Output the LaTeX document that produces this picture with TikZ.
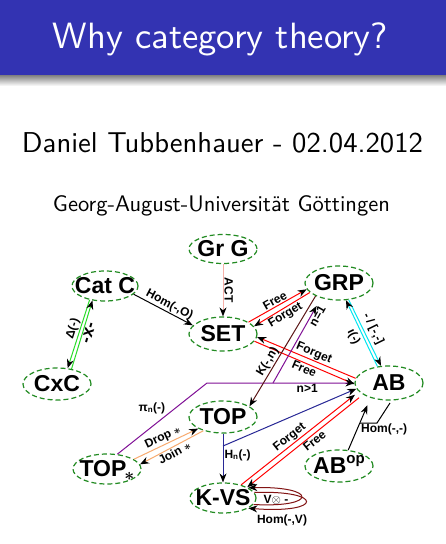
\documentclass[tikz,border=0pt]{standalone}
\usepackage{fontspec}
\usepackage{amsmath}
\usepackage{graphicx}
\usetikzlibrary{shapes.geometric,arrows.meta}
\newfontfamily\arialfont{Liberation Sans}
\definecolor{headblue}{RGB}{51,51,178}
\definecolor{nodegreen}{RGB}{34,139,34}
\definecolor{actpink}{RGB}{246,176,168}
\definecolor{catgreen}{RGB}{40,220,40}
\definecolor{funred}{RGB}{255,0,0}
\definecolor{abcyan}{RGB}{0,230,240}
\definecolor{toporange}{RGB}{248,170,110}
\definecolor{piviolet}{RGB}{128,16,150}
\definecolor{kbrown}{RGB}{90,20,20}
\definecolor{hnavy}{RGB}{40,40,150}
\definecolor{loopred}{RGB}{130,20,20}
\begin{document}
\begin{tikzpicture}[x=1pt,y=-1pt,
  obj/.style={ellipse, draw=nodegreen, dash pattern=on 5pt off 3pt, line width=1.2pt,
    fill=white, inner sep=0pt, minimum width=68pt, minimum height=32pt},
  objtext/.style={font=\arialfont\bfseries\fontsize{23}{23}\selectfont, inner sep=0pt},
  fun/.style={line width=1pt, -{Stealth[length=9pt,width=7pt,color=black]}},
  lbl/.style={font=\arialfont\bfseries\fontsize{12}{12}\selectfont, inner sep=1pt},
]
\useasboundingbox (0,0) rectangle (446,544);
\fill[white] (0,0) rectangle (446,544);

% slide header
\fill[headblue] (0,0) rectangle (446,75);
\shade[top color=black!50, bottom color=white] (0,75) rectangle (446,86);
\node[anchor=base, text=white, font=\sffamily, inner sep=0pt] (title) at (220.5,48)
  {\resizebox{335pt}{!}{Why category theory?}};
\node[anchor=base, font=\sffamily, inner sep=0pt] (author) at (222.5,152)
  {\resizebox{401pt}{!}{Daniel Tubbenhauer - 02.04.2012}};
\node[anchor=base, font=\sffamily, inner sep=0pt] (inst) at (221.5,211)
  {\resizebox{337pt}{!}{Georg-August-Universität Göttingen}};

% categories
\node[obj, minimum height=29pt, label={[objtext]center:Gr G}] (gr) at (223,249) {};
\node[obj, minimum width=66pt, minimum height=30pt, label={[objtext]center:Cat C}] (cat) at (105,286) {};
\node[obj, minimum height=34pt, label={[objtext]center:SET}] (set) at (223,334) {};
\node[obj, minimum height=34pt, label={[objtext]center:GRP}] (grp) at (339,283) {};
\node[obj, label={[objtext]center:CxC}] (cxc) at (57,384) {};
\node[obj, minimum height=34pt, label={[objtext]center:AB}] (ab) at (389,383) {};
\node[obj, label={[objtext]center:TOP}] (top) at (223,417) {};
\node[obj, minimum height=30pt, label={[objtext]center:{TOP\kern-2pt\smash{\raisebox{-0.15em}{\fontsize{17}{17}\selectfont$\boldsymbol{\ast}$}}}}] (tops) at (107,469) {};
\node[obj, label={[objtext]center:{AB\smash{\raisebox{0.45em}{\fontsize{15}{15}\selectfont op}}}}] (abop) at (339,466) {};
\node[obj, minimum width=66pt, minimum height=30pt, label={[objtext]center:K-VS}] (kvs) at (223,498) {};

% functors
\draw[fun, draw=actpink] (gr.south) -- node[lbl, sloped, above, pos=.5] {ACT} (set.north);
\draw[fun] (cat.-16) -- node[lbl, sloped, above, pos=.55] {Hom(-,O)} (set.164);
\draw[fun, draw=catgreen] (cat.222) -- node[lbl, sloped, above, pos=.45] {Δ(-)} (cxc.56);
\draw[fun, draw=catgreen] (cxc.46) -- node[lbl, sloped, below, pos=.55,
  font=\arialfont\bfseries\fontsize{17}{17}\selectfont] {-x-} (cat.229);

\draw[fun, draw=funred] (set.25) -- node[lbl, sloped, above] {Free} (grp.191);
\draw[fun, draw=funred] (grp.198) -- node[lbl, sloped, below] {Forget} (set.14);

\draw[fun, draw=funred] (ab.172) -- node[lbl, sloped, above, pos=.45] {Forget} (set.-5);
\draw[fun, draw=funred] (set.-13) -- node[lbl, sloped, below, pos=.52] {Free} (ab.182);

\draw[fun, draw=abcyan] (grp.-60) -- node[lbl, sloped, above=2pt] {- / [-,-]} (ab.115);
\draw[fun, draw=abcyan] (ab.125) -- node[lbl, sloped, below=2pt] {ι(-)} (grp.-68);

\draw[fun, shorten >=8pt] (abop.60) -- (ab.219);
\coordinate (homtip) at (390,403);
\coordinate (homknee) at (377,423);
\node[lbl, anchor=north west] (homlbl) at (360,423) {Hom(-,-)};
\draw[line width=1pt] (homtip) -- (homknee) -- (homlbl.north west);

\draw[fun, draw=toporange] (tops.20) -- node[lbl, sloped, above] {Drop $\boldsymbol{\ast}$} (top.205);
\draw[fun, draw=toporange] (top.215) -- node[lbl, sloped, below] {Join $\boldsymbol{\ast}$} (tops.8);

\coordinate (pibend) at (207,383);
\coordinate (pibranch) at (273,383);
\draw[fun, draw=piviolet] (tops.55) -- node[lbl, above left, pos=.55] {π\textsubscript{n}(-)} (pibend)
  -- node[lbl, below, pos=.68] {n>1} (pibend -| ab.west);
\draw[fun, draw=piviolet, shorten >=9pt] (pibranch) -- node[lbl, sloped, below, pos=.82] {n=1} (grp.220);

\draw[fun, draw=kbrown] (grp.209) -- node[lbl, sloped, above, pos=.63] {K(-,n)} (top.22);

\coordinate (hbranch) at (223,446);
\draw[fun, draw=hnavy] (top.south) -- node[lbl, right, pos=.44] {H\textsubscript{n}(-)} (kvs.north);
\draw[fun, draw=hnavy] (hbranch) -- (ab.190);

\draw[fun, draw=funred, shorten >=5pt] (kvs.36) -- node[lbl, sloped, above, pos=.45] {Forget} (ab.196);
\draw[fun, draw=funred, shorten <=5pt] (ab.204) -- node[lbl, sloped, below, pos=.45] {Free} (kvs.24);

\draw[fun, draw=loopred] (kvs.-12) .. controls (318,508) and (318,486) .. (kvs.22);
\draw[fun, draw=loopred] (kvs.10) .. controls (324,490) and (324,514) .. (kvs.-22);
\node[lbl] (tens) at (276,500) {V$\otimes$ -};
\node[lbl] (homv) at (282,520) {Hom(-,V)};
\end{tikzpicture}
\end{document}
